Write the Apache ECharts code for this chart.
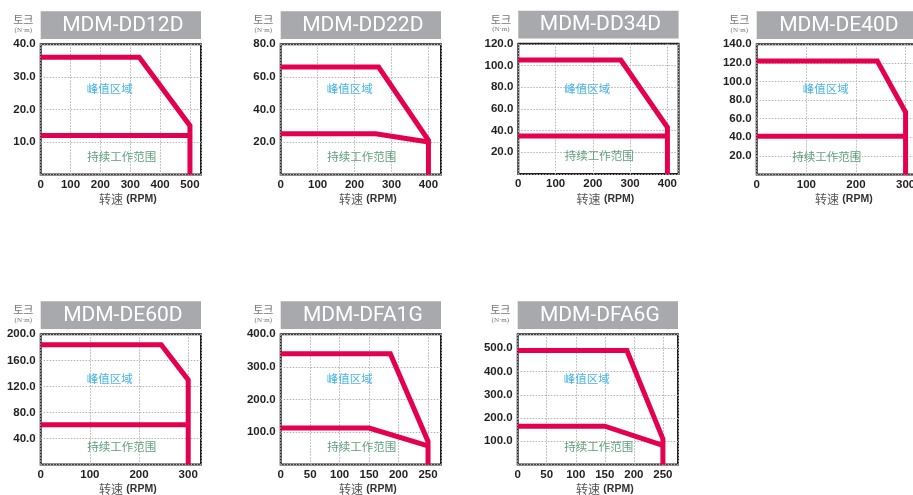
<!DOCTYPE html>
<html>
<head>
<meta charset="utf-8">
<script src="https://cdn.jsdelivr.net/npm/echarts@6/dist/echarts.min.js"></script>
<style>
html,body{margin:0;padding:0;background:#fff;}
#c{width:913px;height:495px;}
</style>
</head>
<body>
<div id="c"></div>
<script>
// ---- data ----
const models = ['MDM-DD12D','MDM-DD22D','MDM-DD34D','MDM-DE40D','MDM-DE60D','MDM-DFA1G','MDM-DFA6G'];
const speedMax   = [537, 434, 430, 323, 326, 272, 276];
const speedStep  = [100, 100, 100, 100, 100, 50, 50];
const torqueMax  = [40, 80, 120, 140, 200, 400, 560];
const torqueStep = [10, 20, 20, 20, 40, 100, 100];

const peakDD12D = [[0,36],[330,36],[500,15],[500,0]];
const contDD12D = [[0,12],[500,12]];
const peakDD22D = [[0,66],[265,66],[400,21],[400,0]];
const contDD22D = [[0,25],[257,25],[400,20]];
const peakDD34D = [[0,105],[275,105],[400,43],[400,0]];
const contDD34D = [[0,35],[400,35]];
const peakDE40D = [[0,122],[243,122],[300,67],[300,0]];
const contDE40D = [[0,41],[300,41]];
const peakDE60D = [[0,184],[245,184],[300,130],[300,0]];
const contDE60D = [[0,61],[300,61]];
const peakDFA1G = [[0,340],[186,340],[250,71],[250,0]];
const contDFA1G = [[0,112],[150,112],[250,57]];
const peakDFA6G = [[0,490],[188,490],[250,110],[250,0]];
const contDFA6G = [[0,165],[150,165],[250,82]];

const peakSets = [peakDD12D, peakDD22D, peakDD34D, peakDE40D, peakDE60D, peakDFA1G, peakDFA6G];
const contSets = [contDD12D, contDD22D, contDD34D, contDE40D, contDE60D, contDFA1G, contDFA6G];

const yUnit = '토크';
const yUnitSub = '(N·m)';
const peakLabel = '峰值区域';
const contLabel = '持续工作范围';

// ---- layout ----
const plotW = 160.3, plotH = 130.2;
const lefts = [40.7, 280.7, 518.3, 756.7, 40.7, 280.7, 517.7];
const tops  = [44.3, 44.3, 43.8, 44.3, 334.3, 334.3, 334.3];
const contLabelX = [81, 81, 81, 70, 81, 81, 81];

const LINE = '#e4004f';
const DARK = '#231f20';

const grids = [], xAxes = [], yAxes = [], series = [], graphics = [];
for (let i = 0; i < models.length; i++) {
  const L = lefts[i], T = tops[i];
  grids.push({left: L, top: T, width: plotW, height: plotH, show: true,
    borderColor: DARK, borderWidth: 2, backgroundColor: 'transparent',
    containLabel: false, outerBoundsMode: 'none'});
  const xs = speedStep[i], ys = torqueStep[i];
  xAxes.push({type: 'value', gridIndex: i, min: 0, max: speedMax[i], interval: xs,
    axisLine: {show: false}, axisTick: {show: false},
    splitLine: {show: true, lineStyle: {type: [1.5, 1.5], color: '#b3b3b3', width: 1}},
    axisLabel: {margin: 4, color: DARK, fontFamily: 'Liberation Sans', fontWeight: 'bold', fontSize: 11.5,
      formatter: v => (Math.abs(v % xs) > 1e-9) ? '' : String(v)},
    name: '{a|转速} {b|(RPM)}', nameLocation: 'middle', nameGap: 19,
    nameTextStyle: {padding: [0, 0, 0, 14], rich: {
      a: {fontFamily: 'Noto Sans CJK SC', fontSize: 12, color: '#555'},
      b: {fontFamily: 'Liberation Sans', fontSize: 10.5, fontWeight: 'bold', color: '#333'}}}
  });
  yAxes.push({type: 'value', gridIndex: i, min: 0, max: torqueMax[i], interval: ys,
    axisLine: {show: false}, axisTick: {show: false},
    splitLine: {show: true, lineStyle: {type: [1.5, 1.5], color: '#b3b3b3', width: 1}},
    axisLabel: {margin: 5, color: DARK, fontFamily: 'Liberation Sans', fontWeight: 'bold', fontSize: 11.5,
      formatter: v => (v === 0 || Math.abs(v % ys) > 1e-9) ? '' : v.toFixed(1)}
  });
  series.push({type: 'line', xAxisIndex: i, yAxisIndex: i, data: contSets[i], symbol: 'none',
    lineStyle: {color: LINE, width: 5, join: 'miter', cap: 'butt'}, animation: false, z: 3});
  series.push({type: 'line', xAxisIndex: i, yAxisIndex: i, data: peakSets[i], symbol: 'none',
    lineStyle: {color: LINE, width: 5, join: 'miter', cap: 'butt'}, animation: false, z: 4});

  // title box
  graphics.push({type: 'rect', shape: {x: L, y: T - 33, width: plotW, height: 27.8},
    style: {fill: '#a7a9ac'}, silent: true});
  graphics.push({type: 'text', x: L + plotW / 2 + 2, y: T - 19, style: {text: models[i],
    fill: '#fff', font: 'normal 21px Roboto', textAlign: 'center', textVerticalAlign: 'middle'}});
  // unit
  graphics.push({type: 'text', x: L - 17.4, y: T - 24.3, style: {text: yUnit,
    fill: '#777', font: 'normal 11px "Noto Sans CJK KR"', textAlign: 'center', textVerticalAlign: 'middle'}});
  graphics.push({type: 'text', x: L - 17.4, y: T - 14.4, style: {text: yUnitSub,
    fill: '#777', font: 'normal 7px "Liberation Serif"', textAlign: 'center', textVerticalAlign: 'middle'}});
  // region labels
  graphics.push({type: 'text', x: L + 69, y: T + 44.5, z: 10, style: {text: peakLabel,
    fill: '#45b3e6', font: 'normal 11.5px "Noto Sans CJK SC"', textAlign: 'center', textVerticalAlign: 'middle'}});
  graphics.push({type: 'text', x: L + contLabelX[i], y: T + 112, z: 10, style: {text: contLabel,
    fill: '#5e9f7d', font: 'normal 11.5px "Noto Sans CJK SC"', textAlign: 'center', textVerticalAlign: 'middle'}});
}

const chart = echarts.init(document.getElementById('c'), null, {renderer: 'canvas'});
chart.setOption({
  animation: false,
  grid: grids, xAxis: xAxes, yAxis: yAxes, series: series,
  graphic: {elements: graphics}
});
</script>
</body>
</html>
